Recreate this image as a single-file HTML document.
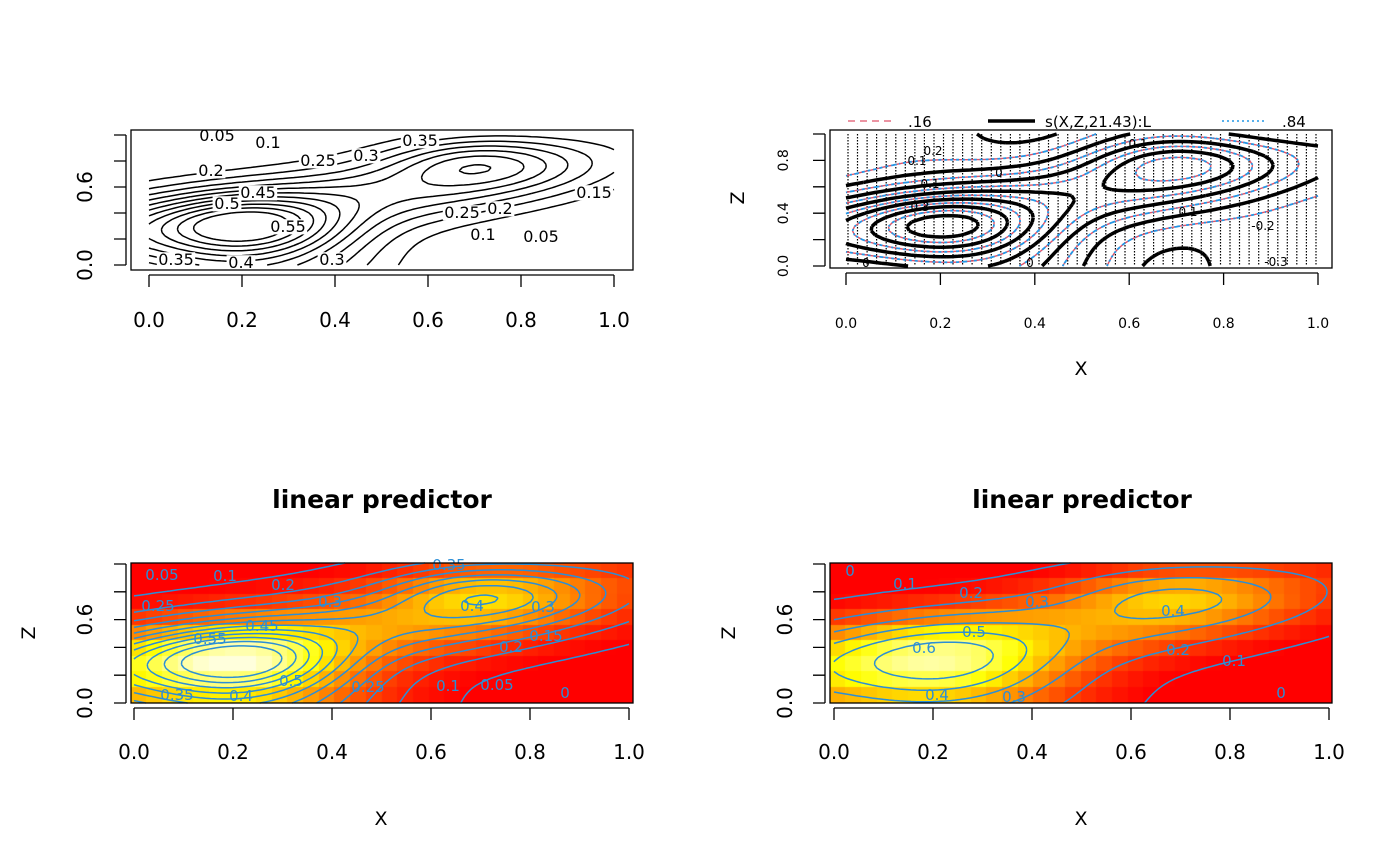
<!DOCTYPE html>
<html><head><meta charset="utf-8"><style>
body{margin:0;background:#fff;width:1400px;height:866px;overflow:hidden;position:relative;font-family:"DejaVu Sans","Liberation Sans",sans-serif}
svg{position:absolute;left:0;top:0}
canvas{position:absolute}
</style></head><body>
<canvas id="c3" style="left:131px;top:563px" width="502" height="140"></canvas>
<canvas id="c4" style="left:830px;top:563px" width="502" height="140"></canvas>
<svg id="s" width="1400" height="866" xmlns="http://www.w3.org/2000/svg" font-family="DejaVu Sans, Liberation Sans, sans-serif">
<g id="g"></g>
</svg>
<script>
const NS="http://www.w3.org/2000/svg",G=document.getElementById('g');
function el(t,a,txt){const e=document.createElementNS(NS,t);for(const k in a)e.setAttribute(k,a[k]);if(txt!==undefined)e.textContent=txt;G.appendChild(e);return e;}
function E(x,z,cx,cz,sx,sz){return Math.exp(-((x-cx)*(x-cx)/sx+(z-cz)*(z-cz)/sz));}
function R(x,z,w){const d=z-0.3-0.5*x;const m=Math.max(0,x-0.6);return Math.exp(-d*d/w)*Math.exp(-m*m/0.2);}
function f(x,z){return 0.27*R(x,z,0.08)+0.32*E(x,z,0.22,0.3,0.04,0.05)+0.16*E(x,z,0.7,0.8,0.035,0.035)+0.25*E(x,z,0.2,0,0.08,0.1)-0.02;}
function g(x,z){return 0.28*R(x,z,0.09)+0.3*E(x,z,0.23,0.3,0.05,0.07)+0.15*E(x,z,0.68,0.78,0.04,0.035)+0.2*E(x,z,0.2,0,0.1,0.1)-0.04;}
function h(x,z){return f(x,z)-0.28+0.06*Math.sin(x*12)*(z-0.5);}
function contour(fn,lev,X0,X1,Y0,Y1,nx,ny){
 let d='';const v=[];
 for(let j=0;j<=ny;j++){v[j]=[];for(let i=0;i<=nx;i++)v[j][i]=fn(i/nx,j/ny);}
 const px=i=>X0+(X1-X0)*i/nx,py=j=>Y0+(Y1-Y0)*j/ny;
 for(let j=0;j<ny;j++)for(let i=0;i<nx;i++){
  const a=v[j][i],b=v[j][i+1],c=v[j+1][i+1],e=v[j+1][i];
  const pts=[];
  const ed=(p,q,x1,y1,x2,y2)=>{if((p<lev)!=(q<lev)){const t=(lev-p)/(q-p);pts.push([x1+(x2-x1)*t,y1+(y2-y1)*t]);}};
  ed(a,b,px(i),py(j),px(i+1),py(j));ed(b,c,px(i+1),py(j),px(i+1),py(j+1));
  ed(c,e,px(i+1),py(j+1),px(i),py(j+1));ed(e,a,px(i),py(j+1),px(i),py(j));
  for(let k=0;k+1<pts.length;k+=2)d+='M'+pts[k][0].toFixed(1)+' '+pts[k][1].toFixed(1)+'L'+pts[k+1][0].toFixed(1)+' '+pts[k+1][1].toFixed(1);
 }
 return d;
}
function heat(t){t=Math.max(0,Math.min(1,t));if(t<0.65)return[255,Math.round(255*t/0.65),0];return[255,255,Math.round(220*(t-0.65)/0.35)];}
function heatmap(id,fn,vmax,nx,ny){const cv=document.getElementById(id),ctx=cv.getContext('2d');const w=cv.width,H=cv.height;
 for(let i=0;i<nx;i++)for(let j=0;j<ny;j++){const c=heat(fn((i+0.5)/nx,1-(j+0.5)/ny)/vmax);ctx.fillStyle='rgb('+c+')';ctx.fillRect(Math.floor(i*w/nx),Math.floor(j*H/ny),Math.ceil(w/nx)+1,Math.ceil(H/ny)+1);}}
heatmap('c3',f,0.62,32,9);heatmap('c4',g,0.64,32,9);
function axes(bx0,bx1,by0,by1,x0,x1,ys,ylabs,fs,xly,yl){
 el('rect',{x:bx0,y:by0,width:bx1-bx0,height:by1-by0,fill:'none',stroke:'#000','stroke-width':1.3});
 let d='M'+x0+' '+(by1+5)+'H'+x1;
 for(let k=0;k<=5;k++){const x=x0+(x1-x0)*k/5;d+='M'+x+' '+(by1+5)+'v12';el('text',{x:x,y:xly,'font-size':fs,'text-anchor':'middle'},(k/5).toFixed(1));}
 d+='M'+(bx0-5)+' '+ys[0]+'V'+ys[5];
 for(let k=0;k<6;k++)d+='M'+(bx0-5)+' '+ys[k]+'h-12';
 el('path',{d:d,stroke:'#000','stroke-width':1.3,fill:'none'});
 for(const [k,t] of ylabs){const y=ys[k];el('text',{x:0,y:0,'font-size':fs,'text-anchor':'middle',transform:'translate('+yl+','+y+') rotate(-90)'},t);}
}
function lbl(x,y,t,col,bg,fs){if(bg){el('rect',{x:x-t.length*fs*0.3,y:y-fs*0.8,width:t.length*fs*0.6,height:fs*0.95,fill:'#fff'});}el('text',{x:x,y:y,'font-size':fs,'text-anchor':'middle',fill:col},t);}
const yr=(a,b)=>[0,1,2,3,4,5].map(k=>a+(b-a)*k/5);
// Panel 1
const L1=[0.05,0.1,0.15,0.2,0.25,0.3,0.35,0.4,0.45,0.5,0.55];
let d1='';for(const l of L1)d1+=contour(f,l,149,614,265,135,90,40);
el('path',{d:d1,stroke:'#000','stroke-width':1.5,fill:'none'});
[[217,141,'0.05'],[268,148,'0.1'],[211,176,'0.2'],[318,166,'0.25'],[366,161,'0.3'],[420,146,'0.35'],[258,198,'0.45'],[227,209,'0.5'],[288,232,'0.55'],[462,218,'0.25'],[500,214,'0.2'],[594,198,'0.15'],[483,240,'0.1'],[541,242,'0.05'],[176,265,'0.35'],[241,268,'0.4'],[332,265,'0.3']].forEach(a=>lbl(a[0],a[1],a[2],'#000',1,16));
axes(131,633,130,270,149,614,yr(265,135),[[0,'0.0'],[3,'0.6']],20,327,92);
// Panel 2
let dv='';for(let i=0;i<50;i++){const x=848+i*9.55;dv+='M'+x.toFixed(1)+' 134V266';}
el('path',{d:dv,stroke:'#000','stroke-width':1.2,'stroke-dasharray':'1.5,1.5',fill:'none'});
const L2=[-0.3,-0.2,-0.1,0,0.1,0.2,0.3];
let dr='',db='',dk='';
for(const l of L2){dr+=contour((x,z)=>h(x,z)-0.05,l,846,1318,266,134,80,30);db+=contour((x,z)=>h(x,z)+0.05,l,846,1318,266,134,80,30);dk+=contour(h,l,846,1318,266,134,80,30);}
el('path',{d:dr,stroke:'#df536b','stroke-width':1.4,'stroke-dasharray':'6,4',fill:'none'});
el('path',{d:db,stroke:'#2297e6','stroke-width':1.8,'stroke-dasharray':'2,3',fill:'none'});
el('path',{d:dk,stroke:'#000','stroke-width':3.5,fill:'none'});
[[933,155,'0.2'],[917,165,'0.1'],[999,177,'0'],[930,188,'0.1'],[920,211,'0.3'],[1138,148,'0.1'],[1188,216,'0.1'],[1263,230,'-0.2'],[1276,266,'-0.3'],[866,267,'0'],[1030,267,'0']].forEach(a=>lbl(a[0],a[1],a[2],'#000',0,12));
el('path',{d:'M848 121h45',stroke:'#df536b','stroke-width':1.3,'stroke-dasharray':'7,5'});
el('path',{d:'M988 121h47',stroke:'#000','stroke-width':3.5});
el('path',{d:'M1222 121h45',stroke:'#2297e6','stroke-width':1.5,'stroke-dasharray':'2,3'});
el('text',{x:908,y:127,'font-size':15},'.16');el('text',{x:1045,y:127,'font-size':15},'s(X,Z,21.43):L');el('text',{x:1282,y:127,'font-size':15},'.84');
axes(830,1332,130,268,846,1318,yr(266,134),[[0,'0.0'],[2,'0.4'],[4,'0.8']],14,328,788);
el('text',{x:1081,y:375,'font-size':19,'text-anchor':'middle'},'X');
el('text',{x:0,y:0,'font-size':19,'text-anchor':'middle',transform:'translate(744,198) rotate(-90)'},'Z');
// Panel 3
let d3='';for(const l of [0,0.05,...L1])d3+=contour(f,l,134,629,703,563,90,40);
el('path',{d:d3,stroke:'#2b8ed6','stroke-width':1.5,fill:'none'});
[[162,580,'0.05'],[225,581,'0.1'],[158,611,'0.25'],[283,590,'0.2'],[330,607,'0.3'],[449,570,'0.35'],[472,611,'0.4'],[262,631,'0.45'],[210,644,'0.55'],[291,686,'0.5'],[543,612,'0.3'],[511,652,'0.2'],[546,641,'0.15'],[448,691,'0.1'],[497,690,'0.05'],[565,698,'0'],[177,700,'0.35'],[241,701,'0.4'],[368,692,'0.25']].forEach(a=>lbl(a[0],a[1],a[2],'#2b8ed6',0,15));
axes(131,633,563,703,134,629,yr(703,564),[[0,'0.0'],[3,'0.6']],20,759,92);
el('text',{x:382,y:508,'font-size':25,'font-weight':'bold','text-anchor':'middle'},'linear predictor');
el('text',{x:381,y:825,'font-size':19,'text-anchor':'middle'},'X');
el('text',{x:0,y:0,'font-size':19,'text-anchor':'middle',transform:'translate(35,633) rotate(-90)'},'Z');
// Panel 4
let d4='';for(const l of [0,0.1,0.2,0.3,0.4,0.5,0.6])d4+=contour(g,l,834,1329,703,563,90,40);
el('path',{d:d4,stroke:'#2b8ed6','stroke-width':1.5,fill:'none'});
[[850,576,'0'],[905,589,'0.1'],[971,598,'0.2'],[1037,607,'0.3'],[1173,616,'0.4'],[974,637,'0.5'],[924,653,'0.6'],[937,700,'0.4'],[1014,702,'0.3'],[1178,655,'0.2'],[1234,666,'0.1'],[1281,698,'0']].forEach(a=>lbl(a[0],a[1],a[2],'#2b8ed6',0,15));
axes(830,1332,563,703,834,1329,yr(703,564),[[0,'0.0'],[3,'0.6']],20,759,792);
el('text',{x:1082,y:508,'font-size':25,'font-weight':'bold','text-anchor':'middle'},'linear predictor');
el('text',{x:1081,y:825,'font-size':19,'text-anchor':'middle'},'X');
el('text',{x:0,y:0,'font-size':19,'text-anchor':'middle',transform:'translate(735,633) rotate(-90)'},'Z');
</script>
</body></html>
